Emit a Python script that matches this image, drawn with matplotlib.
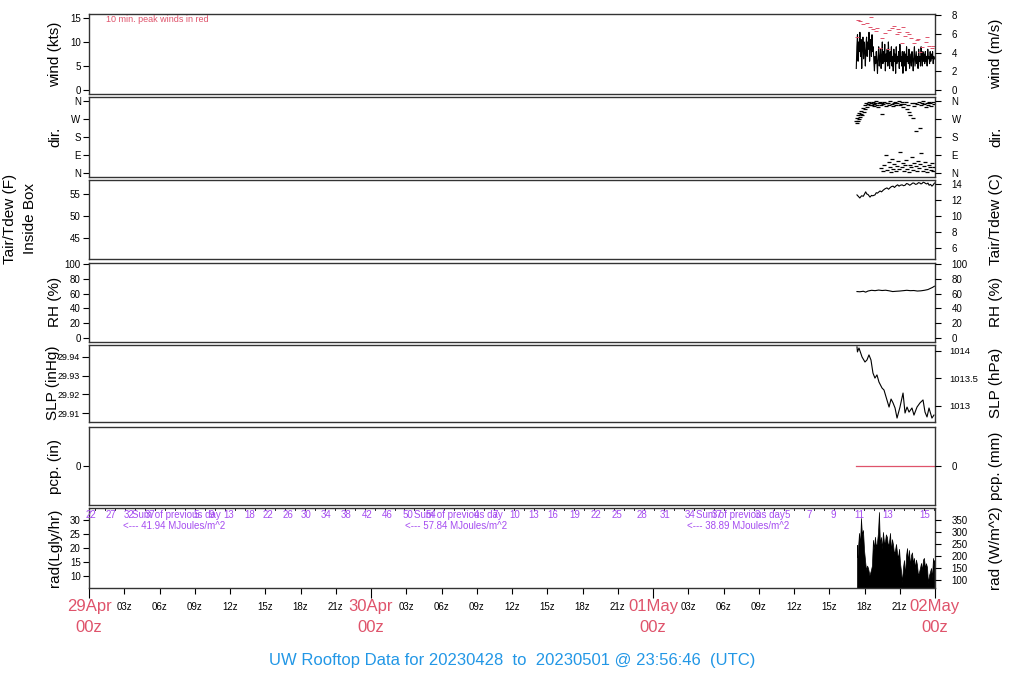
import matplotlib
matplotlib.use("Agg")
import matplotlib.pyplot as plt
import numpy as np

plt.rcParams['font.family'] = ['Liberation Sans', 'DejaVu Sans']

# time axis: hours since 29Apr 00z ; data lie on 01May (offset 48 h)
DAY3 = 48.0

# wind speed (kts), sampled evenly from 17.3z to 23.95z on 01May
wind_kts = [4.5, 9, 11.5, 6, 10, 8, 12, 7, 10.5, 4.5, 9, 11, 6.5, 10, 8, 5, 9.5, 11, 7, 10,
            8.5, 12, 6, 9, 10.5, 7, 11.5, 8, 9, 6,
            4, 7, 5.5, 8, 6, 3.5, 7, 9, 5, 6.5, 8.5, 4.5, 7, 10, 5.5, 8, 6, 9.5, 4, 7.5,
            6, 8.5, 5, 10, 6.5, 4.5, 8, 6, 9, 5, 7, 4, 8.5, 6, 7.5, 3.5, 9, 5.5, 7, 6,
            8, 4.5, 9.5, 6, 7, 5, 8, 3.5, 6.5, 8, 5, 7.5, 4, 9, 6, 7, 5.5, 8.5, 4.5, 6,
            7.5, 5, 8, 6.5, 4, 7, 9, 5, 6.5, 8, 5.5, 7, 4.5, 8.5, 6, 7, 5, 9, 6.5, 5,
            8, 6, 7.5, 5.5, 8, 6, 7, 5, 8.5, 6.5, 7, 5.5, 8, 6, 7.5, 6.5, 8, 5.5, 7, 6.5]
wind_start, wind_end = 17.3, 23.95

# 10 min peak winds (hour on 01May, kts)
peak_hr = [17.36, 17.45, 17.62, 17.87, 18.21, 18.55, 18.47, 18.72, 18.98, 19.06, 19.32, 19.49,
           19.74, 20.0, 20.09, 20.34, 20.51, 20.77, 20.85, 20.94, 21.19, 21.28, 21.45, 21.62,
           21.79, 21.96, 22.21, 22.47, 22.55, 22.72, 22.89, 23.23, 23.32, 23.49, 23.74, 23.83]
peak_kts = [11.0, 14.6, 14.4, 13.75, 14.0, 15.2, 13.1, 12.7, 12.3, 12.9, 8.75, 10.8,
            11.9, 8.5, 12.5, 12.9, 13.3, 11.7, 12.7, 12.1, 9.8, 13.1, 11.25, 12.1,
            11.7, 10.8, 9.8, 10.4, 10.6, 7.9, 9.0, 10.0, 11.0, 9.2, 8.75, 9.2]

# wind direction (hour on 01May, degrees)
dir_hr = [17.30, 17.33, 17.38, 17.42, 17.47, 17.52, 17.56, 17.60, 17.66, 17.72, 17.78, 17.85,
          17.92, 18.00, 18.08, 18.15, 18.22, 18.30, 18.38, 18.45,
          18.55, 18.62, 18.70, 18.78, 18.85, 18.92, 19.00, 19.08, 19.15, 19.22, 19.30, 19.38,
          19.45, 19.52, 19.60, 19.70, 19.80, 19.90, 20.00, 20.10, 20.20, 20.30, 20.40, 20.50,
          20.60, 20.70, 20.80, 20.90, 21.00, 21.10, 21.20, 21.30, 21.40, 21.50, 21.60, 21.70,
          21.80, 21.90, 22.00, 22.10, 22.20, 22.30, 22.40, 22.50, 22.60, 22.70, 22.80, 22.90,
          23.00, 23.10, 23.20, 23.30, 23.40, 23.50, 23.60, 23.70, 23.80, 23.90,
          19.40, 19.55, 19.70, 19.85, 19.95, 20.05, 20.15, 20.25, 20.35, 20.45, 20.55, 20.65,
          20.75, 20.85, 20.95, 21.05, 21.15, 21.25, 21.35, 21.45, 21.55, 21.65, 21.75, 21.85,
          21.95, 22.05, 22.15, 22.25, 22.35, 22.45, 22.55, 22.65, 22.75, 22.85, 22.95, 23.05,
          23.15, 23.25, 23.35, 23.45, 23.55, 23.65, 23.75, 23.85, 23.95]
dir_deg = [262, 250, 275, 258, 290, 268, 300, 282, 295, 312, 288, 325,
           305, 340, 318, 350, 332, 345, 355, 338,
           352, 340, 357, 345, 335, 350, 358, 342, 330, 348, 355, 338,
           296, 350, 344, 356, 335, 348, 352, 340, 358, 345, 336, 350,
           355, 342, 349, 358, 338, 346, 353, 330, 344, 356, 320, 338,
           305, 290, 348, 275, 335, 352, 210, 343, 355, 225, 340, 350,
           358, 345, 332, 352, 340, 356, 348, 337, 353, 345,
           25, 10, 40, 88, 15, 55, 30, 5, 70, 20, 45, 8,
           35, 60, 18, 105, 28, 50, 12, 38, 65, 22, 6, 42,
           30, 80, 15, 52, 35, 8, 62, 25, 45, 100, 12, 33,
           55, 20, 5, 40, 28, 15, 50, 10, 30]

# inside box air temperature (hour on 01May, F)
temp_hr = [17.36, 17.5, 17.6, 17.75, 17.9, 18.1, 18.2, 18.3, 18.47, 18.6, 18.7, 18.89, 19.0,
           19.1, 19.32, 19.45, 19.6, 19.75, 19.91, 20.05, 20.2, 20.3, 20.43, 20.55, 20.7,
           20.82, 20.94, 21.05, 21.2, 21.32, 21.45, 21.58, 21.7, 21.85, 21.96, 22.1, 22.2,
           22.35, 22.47, 22.6, 22.72, 22.8, 22.89, 23.0, 23.1, 23.2, 23.3, 23.4, 23.5, 23.62,
           23.74, 23.85, 23.95]
temp_f = [54.8, 54.4, 54.1, 54.6, 54.5, 55.5, 55.0, 54.9, 54.3, 54.7, 54.6, 54.8, 55.3,
          55.2, 55.7, 55.5, 55.9, 56.2, 56.4, 56.1, 56.5, 56.7, 56.8, 56.5, 56.9,
          57.1, 56.8, 57.0, 57.1, 56.9, 57.0, 57.4, 57.3, 57.0, 57.2, 57.5, 57.5,
          57.2, 57.3, 57.6, 57.5, 57.3, 57.4, 57.7, 57.6, 57.4, 57.3, 57.5, 57.0, 57.2,
          56.8, 57.1, 57.5]

# relative humidity (hour on 01May, %)
rh_hr = [17.36, 17.6, 17.9, 18.1, 18.3, 18.6, 18.9, 19.2, 19.5, 19.8, 20.1, 20.4, 20.7,
         21.0, 21.3, 21.6, 21.9, 22.2, 22.5, 22.8, 23.1, 23.4, 23.6, 23.8, 23.95]
rh_pct = [62.8, 62.5, 63.2, 62.0, 63.5, 64.5, 64.0, 64.8, 64.2, 64.6, 63.8, 62.8, 63.2,
          63.5, 64.0, 64.5, 64.0, 64.2, 63.5, 63.8, 64.5, 65.5, 67.0, 68.5, 70.0]

# sea level pressure (hour on 01May, inHg)
slp_hr = [17.36, 17.40, 17.53, 17.79, 18.04, 18.21, 18.38, 18.55, 18.72, 18.89, 19.06, 19.23,
          19.49, 19.66, 19.91, 20.09, 20.26, 20.43, 20.60, 20.77, 21.02, 21.28, 21.45, 21.62,
          21.79, 22.04, 22.21, 22.47, 22.72, 22.98, 23.15, 23.32, 23.49, 23.74, 23.91]
slp_inhg = [29.9454, 29.9427, 29.9448, 29.9400, 29.9373, 29.9384, 29.9411, 29.9384, 29.9314,
            29.9287, 29.9304, 29.9266, 29.9234, 29.9223, 29.9170, 29.9132, 29.9175, 29.9154,
            29.9127, 29.9073, 29.9132, 29.9207, 29.9100, 29.9132, 29.9105, 29.9127, 29.9089,
            29.9132, 29.9154, 29.9170, 29.9105, 29.9079, 29.9127, 29.9073, 29.9089]

# precipitation (hour on 01May, in)
pcp_hr = [17.3, 23.95]
pcp_in = [0.0, 0.0]

# solar radiation (hour on 01May, W/m^2)
rad_hr = [17.36, 17.40, 17.53, 17.62, 17.70, 17.78, 17.87, 17.96, 18.05, 18.13, 18.22, 18.30,
          18.42, 18.55, 18.63, 18.72, 18.80, 18.89, 18.97, 19.06, 19.15, 19.23, 19.31, 19.40,
          19.48, 19.57, 19.65, 19.74, 19.82, 19.91, 20.0, 20.09, 20.17, 20.26, 20.34, 20.43,
          20.51, 20.60, 20.68, 20.77, 20.85, 20.94, 21.02, 21.10, 21.19, 21.27, 21.36, 21.45,
          21.53, 21.62, 21.70, 21.79, 21.87, 21.96, 22.04, 22.13, 22.21, 22.30, 22.38, 22.47,
          22.55, 22.64, 22.72, 22.81, 22.89, 22.98, 23.06, 23.15, 23.23, 23.32, 23.40, 23.49,
          23.57, 23.66, 23.74, 23.83, 23.91, 23.95]
rad_wm2 = [246, 196, 296, 250, 358, 290, 308, 225, 180, 142, 160, 150,
           120, 142, 160, 267, 230, 280, 240, 254, 300, 383, 250, 279,
           230, 300, 260, 258, 290, 279, 240, 260, 296, 220, 270, 246,
           210, 225, 250, 213, 190, 230, 171, 140, 92, 150, 183, 120,
           200, 233, 180, 225, 160, 204, 215, 170, 192, 150, 185, 163,
           120, 133, 150, 171, 140, 185, 192, 150, 170, 154, 88, 120,
           133, 150, 110, 192, 160, 183]

# purple labels along the top of the radiation panel (pixel column of each label)
top_lbl = ['22', '27', '32', '37', '5', '9', '13', '18', '22', '26', '30', '34', '38', '42',
           '46', '50', '54', '4', '7', '10', '13', '16', '19', '22', '25', '28', '31', '34',
           '37', '3', '5', '7', '9', '11', '13', '15']
top_px = [91, 111, 129, 150, 196, 211, 229, 250, 268, 288, 306, 326, 346, 367,
          387, 408, 431, 476, 495, 515, 534, 553, 575, 596, 617, 642, 665, 690,
          717, 757, 787, 809, 833, 859, 888, 925]
day_sums = ['41.94', '57.84', '38.89']
day_names = ['29Apr', '30Apr', '01May', '02May']

RED = '#DF536B'
PURPLE = '#A54CF0'
BLUE = '#2297E6'

fig = plt.figure(figsize=(10.24, 7.0), dpi=100)
W, H = 1024.0, 700.0
X0, X1 = 89, 935


def px2hr(x):
    return (x - X0) / (X1 - X0) * 72.0


def panel(yt, yb):
    ax = fig.add_axes([X0 / W, 1 - yb / H, (X1 - X0) / W, (yb - yt) / H])
    ax.set_xlim(0, 72)
    ax.set_xticks([])
    for s in ax.spines.values():
        s.set_color('#333333')
        s.set_linewidth(1.0)
    ax.tick_params(axis='y', labelsize=7, length=4, width=0.8, pad=2)
    return ax


def twin(ax, lo, hi, ticks, labels=None, size=7, pad=8):
    t = ax.twinx()
    t.set_ylim(lo, hi)
    t.set_yticks(ticks)
    if labels is not None:
        t.set_yticklabels(labels)
    t.tick_params(axis='y', labelsize=size, length=4, width=0.8, pad=pad)
    t.set_xticks([])
    for s in t.spines.values():
        s.set_visible(False)
    return t


def ylab(x, yc, s, size=11):
    fig.text(x / W, 1 - yc / H, s, rotation=90, ha='center', va='center', fontsize=size)


# ---- wind
ax = panel(14, 94)
ax.set_ylim(-0.8, 15.8)
ax.set_yticks([0, 5, 10, 15])
wt = np.linspace(wind_start, wind_end, len(wind_kts)) + DAY3
ax.plot(wt, wind_kts, color='black', lw=0.8)
ax.plot(np.array(peak_hr) + DAY3, peak_kts, ls='none', marker='_', ms=2.5, mew=0.7, color=RED)
ax.text(px2hr(106), 14.75, '10 min. peak winds in red', color=RED, fontsize=6.5, va='center')
twin(ax, -0.8 * 0.514444, 15.8 * 0.514444, [0, 2, 4, 6, 8])
ylab(55, 54, 'wind (kts)')
ylab(996, 54, 'wind (m/s)')

# ---- direction
ax = panel(97, 177)
ax.set_ylim(-20, 380)
ax.set_yticks([0, 90, 180, 270, 360])
ax.set_yticklabels(['N', 'E', 'S', 'W', 'N'])
ax.plot(np.array(dir_hr) + DAY3, dir_deg, ls='none', marker='_', ms=3.5, mew=0.9, color='black')
twin(ax, -20, 380, [0, 90, 180, 270, 360], ['N', 'E', 'S', 'W', 'N'])
ylab(55, 137, 'dir.')
ylab(996, 137, 'dir.')

# ---- temperature
ax = panel(180, 259)
flo, fhi = 40.2, 58.2
ax.set_ylim(flo, fhi)
ax.set_yticks([45, 50, 55])
ax.plot(np.array(temp_hr) + DAY3, temp_f, color='black', lw=0.8)
twin(ax, (flo - 32) / 1.8, (fhi - 32) / 1.8, [6, 8, 10, 12, 14])
ylab(10, 219, 'Tair/Tdew (F)')
ylab(30, 219, 'Inside Box')
ylab(996, 219, 'Tair/Tdew (C)')

# ---- relative humidity
ax = panel(263, 342)
ax.set_ylim(-5.4, 101.4)
ax.set_yticks([0, 20, 40, 60, 80, 100])
ax.plot(np.array(rh_hr) + DAY3, rh_pct, color='black', lw=0.8)
twin(ax, -5.4, 101.4, [0, 20, 40, 60, 80, 100])
ylab(55, 302, 'RH (%)')
ylab(996, 302, 'RH (%)')

# ---- pressure
ax = panel(345, 422)
plo, phi = 29.9052, 29.9464
ax.set_ylim(plo, phi)
ax.set_yticks([29.91, 29.92, 29.93, 29.94])
ax.set_yticklabels(['29.91', '29.92', '29.93', '29.94'])
ax.tick_params(axis='y', labelsize=6.4, length=5)
ax.plot(np.array(slp_hr) + DAY3, slp_inhg, color='black', lw=0.8)
twin(ax, plo * 33.8639, phi * 33.8639, [1013, 1013.5, 1014], ['1013', '1013.5', '1014'],
     size=6.8, pad=6)
ylab(53, 383, 'SLP (inHg)')
ylab(996, 383, 'SLP (hPa)')

# ---- precipitation
ax = panel(427, 505)
ax.set_ylim(-1, 1)
ax.set_yticks([0])
ax.plot(np.array(pcp_hr) + DAY3, pcp_in, color=RED, lw=0.9)
twin(ax, -1, 1, [0])
ylab(55, 466, 'pcp. (in)')
ylab(996, 466, 'pcp. (mm)')

# ---- radiation
ax = panel(508, 588)
rlo, rhi = 5.75, 34.4
ax.set_ylim(rlo, rhi)
ax.set_yticks([10, 15, 20, 25, 30])
rly = np.array(rad_wm2) / 11.622
ax.fill_between(np.array(rad_hr) + DAY3, rly, rlo, color='black', lw=0.5)
twin(ax, rlo * 11.622, rhi * 11.622, [100, 150, 200, 250, 300, 350])
ylab(55, 548, 'rad(Lgly/hr)')
ylab(996, 548, 'rad (W/m^2)')

# purple counter labels and daily sums
for lb, xp in zip(top_lbl, top_px):
    ax.text(px2hr(xp), 31.9, lb, color=PURPLE, fontsize=7, ha='center', va='center')
for i, s in enumerate(day_sums):
    ax.text(24 * i + 3.7, 31.9, 'Sum of previous day', color=PURPLE, fontsize=7, va='center')
    ax.text(24 * i + 2.9, 28.0, '<--- ' + s + ' MJoules/m^2', color=PURPLE, fontsize=7,
            va='center')

# top inner ticks
for h in np.arange(0.5, 72, 0.85):
    ax.plot([h, h], [rhi, rhi - 0.6], color='black', lw=0.6)

# bottom time axis
ax.set_xticks(np.arange(0, 73, 24))
ax.set_xticks(np.arange(0, 73, 3), minor=True)
ax.set_xticklabels([])
ax.tick_params(axis='x', which='major', length=7, width=0.8)
ax.tick_params(axis='x', which='minor', length=4, width=0.8, labelsize=7, pad=6)
ax.set_xticklabels(['' if h % 24 == 0 else '%02dz' % (h % 24) for h in range(0, 73, 3)],
                   minor=True)
for i, name in enumerate(day_names):
    fig.text((X0 + i * (X1 - X0) / 3) / W, 1 - 607 / H, name, color=RED, fontsize=12,
             ha='center', va='center')
    fig.text((X0 + i * (X1 - X0) / 3) / W, 1 - 627 / H, '00z', color=RED, fontsize=12,
             ha='center', va='center')

fig.text(0.5, 1 - 660 / H, 'UW Rooftop Data for 20230428  to  20230501 @ 23:56:46  (UTC)',
         color=BLUE, fontsize=12, ha='center', va='center')

fig.savefig('out.png', dpi=100)
